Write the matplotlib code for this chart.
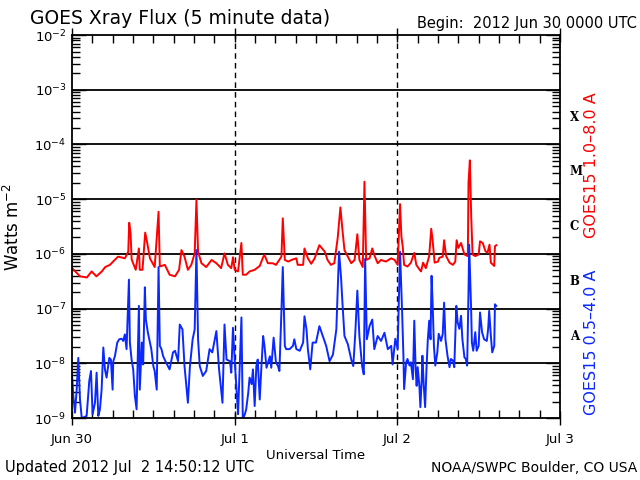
import matplotlib
matplotlib.use("Agg")
import matplotlib.pyplot as plt
import matplotlib.ticker as mticker
import matplotlib.transforms as mtrans
import numpy as np

# hours since 2012 Jun 30 0000 UTC, log10 of flux (W m^-2)
red_hours = [0.0, 1.2, 2.2, 2.9, 3.6, 4.4, 4.9, 5.6, 6.3, 6.8, 7.8, 8.3, 8.44, 8.64, 8.8,
             9.4, 9.87, 10.0, 10.4, 10.8, 11.1, 11.5, 12.2, 12.77, 12.96, 13.7, 14.4, 15.2,
             15.8, 16.15, 16.6, 17.1, 17.6, 18.1, 18.36, 18.6, 19.1, 19.8, 20.6, 21.3, 22.0,
             22.5, 23.0, 23.5, 23.76, 24.0, 24.5, 24.99, 25.2, 25.7, 26.2, 26.95, 27.7, 28.2,
             28.4, 28.9, 29.6, 30.1, 30.9, 31.1, 31.4, 31.9, 32.4, 33.1, 33.3, 34.1, 34.3,
             34.8, 35.3, 35.8, 36.5, 37.3, 37.7, 38.2, 38.7, 39.2, 39.6, 39.9, 40.2, 40.7,
             41.2, 41.7, 42.1, 42.4, 42.9, 43.15, 43.4, 43.9, 44.3, 44.6, 45.1, 45.6, 46.3,
             47.1, 47.6, 48.05, 48.4, 48.6, 48.8, 49.0, 49.5, 50.0, 50.5, 50.8, 51.3, 51.5,
             51.8, 52.2, 52.7, 53.0, 53.2, 53.5, 54.0, 54.2, 54.7, 54.9, 55.2, 55.7, 56.2,
             56.55, 56.75, 57.0, 57.4, 57.9, 58.4, 58.5, 58.7, 58.9, 59.1, 59.5, 60.0, 60.2,
             60.6, 61.0, 61.3, 61.6, 61.8, 62.3, 62.4, 62.6]
red_log = [-6.26, -6.41, -6.43, -6.32, -6.41, -6.32, -6.24, -6.20, -6.11, -6.05, -6.08, -5.96,
           -5.43, -5.62, -6.10, -6.29, -5.90, -6.29, -6.29, -5.61, -5.80, -6.08, -6.24, -5.23,
           -6.23, -6.20, -6.38, -6.41, -6.29, -5.93, -6.05, -6.29, -6.20, -5.99, -5.01, -5.96,
           -6.17, -6.24, -6.11, -6.17, -6.26, -5.99, -6.20, -6.26, -6.06, -6.29, -6.32, -5.80,
           -6.38, -6.38, -6.32, -6.29, -6.22, -6.06, -6.02, -6.17, -6.17, -6.20, -6.05, -5.35,
           -6.11, -6.14, -6.11, -6.08, -6.20, -6.20, -5.90, -6.08, -6.18, -6.08, -5.84, -5.96,
           -6.11, -6.20, -6.17, -5.71, -5.15, -5.56, -5.93, -6.05, -6.17, -6.11, -5.64, -6.11,
           -6.24, -4.68, -6.11, -6.08, -5.90, -6.02, -6.17, -6.11, -6.14, -6.08, -6.11, -6.20,
           -5.09, -5.68, -5.87, -6.20, -6.23, -6.16, -5.98, -6.20, -6.29, -6.32, -6.16, -6.26,
           -6.04, -5.54, -5.74, -6.16, -6.14, -6.07, -6.05, -5.75, -6.04, -6.16, -6.20, -6.14,
           -5.75, -5.89, -5.80, -6.01, -6.04, -4.70, -4.29, -5.31, -6.01, -6.04, -6.01, -5.77,
           -5.80, -5.95, -5.98, -5.83, -6.16, -6.22, -5.86, -5.84]

blue_hours = [0.0, 0.2, 0.44, 0.69, 0.93, 1.18, 1.43, 1.67, 2.16, 2.55, 2.8, 3.04, 3.39, 3.63,
              3.88, 4.12, 4.37, 4.62, 4.86, 5.1, 5.5, 5.74, 5.99, 6.09, 6.33, 6.68, 6.97, 7.32,
              7.56, 7.8, 8.05, 8.4, 8.54, 8.79, 9.03, 9.28, 9.53, 9.87, 10.0, 10.3, 10.5, 10.75,
              10.9, 11.2, 11.7, 12.0, 12.2, 12.5, 12.77, 12.96, 13.2, 13.45, 13.9, 14.4, 14.9,
              15.2, 15.65, 15.9, 16.3, 16.6, 17.1, 17.4, 17.8, 18.1, 18.36, 18.6, 18.85, 19.3,
              19.8, 20.3, 20.7, 21.3, 21.7, 22.2, 22.5, 22.8, 23.3, 23.5, 23.75, 24.0, 24.3,
              24.5, 24.7, 25.0, 25.2, 25.5, 25.7, 26.0, 26.2, 26.5, 26.7, 26.95, 27.2, 27.4,
              27.7, 27.9, 28.2, 28.4, 28.7, 29.2, 29.4, 29.75, 30.1, 30.4, 30.6, 30.9, 31.1,
              31.4, 31.6, 32.1, 32.6, 32.8, 33.1, 33.6, 34.1, 34.3, 34.6, 34.8, 35.15, 35.5,
              36.0, 36.5, 37.0, 37.5, 38.0, 38.5, 39.0, 39.4, 39.7, 39.9, 40.2, 40.7, 41.2,
              41.5, 41.8, 42.1, 42.4, 42.8, 43.05, 43.25, 43.5, 43.9, 44.3, 44.6, 45.1, 45.6,
              46.1, 46.6, 47.1, 47.3, 47.7, 48.05, 48.4, 48.55, 48.7, 48.9, 49.0, 49.3, 49.5,
              49.8, 50.0, 50.3, 50.5, 50.7, 50.85, 51.0, 51.25, 51.4, 51.6, 51.7, 51.9, 52.1,
              52.3, 52.5, 52.7, 52.9, 53.05, 53.2, 53.4, 53.6, 53.9, 54.1, 54.45, 54.7, 54.9,
              55.1, 55.4, 55.7, 55.9, 56.2, 56.4, 56.7, 56.9, 57.15, 57.4, 57.6, 57.9, 58.1,
              58.3, 58.5, 58.6, 58.9, 59.0, 59.2, 59.5, 59.7, 60.0, 60.2, 60.5, 60.8, 61.2,
              61.4, 61.55, 61.8, 62.0, 62.3, 62.4, 62.6]
blue_log = [-8.20, -8.60, -8.90, -8.48, -7.90, -8.66, -8.99, -8.99, -8.96, -8.32, -8.14, -8.93,
            -8.72, -8.17, -8.96, -8.84, -8.48, -7.71, -8.11, -8.26, -7.90, -7.93, -8.48, -7.96,
            -7.87, -7.62, -7.56, -7.55, -7.59, -7.47, -7.74, -6.47, -7.62, -7.93, -8.11, -8.60,
            -8.84, -6.95, -8.48, -7.62, -8.02, -6.61, -7.20, -7.44, -7.74, -8.05, -8.14, -8.48,
            -6.24, -7.68, -7.74, -7.87, -7.99, -8.11, -7.80, -7.77, -7.96, -7.29, -7.38, -8.05,
            -8.72, -8.05, -7.56, -7.38, -5.93, -7.56, -8.05, -8.23, -8.14, -7.74, -7.80, -7.41,
            -8.11, -8.72, -7.29, -7.93, -7.96, -8.17, -7.35, -7.93, -8.54, -8.93, -8.23, -7.16,
            -9.02, -8.93, -8.84, -8.54, -8.26, -8.38, -8.11, -8.78, -8.05, -7.93, -8.66, -8.17,
            -7.50, -7.68, -8.08, -7.87, -8.08, -7.53, -7.99, -8.05, -8.14, -7.04, -6.24, -7.68,
            -7.74, -7.74, -7.68, -7.56, -7.74, -7.77, -7.62, -7.14, -7.38, -7.74, -8.11, -7.62,
            -7.62, -7.32, -7.50, -7.68, -7.96, -7.84, -7.38, -5.96, -6.44, -6.89, -7.50, -7.65,
            -7.93, -8.05, -7.44, -6.67, -7.50, -8.05, -8.20, -6.09, -7.56, -7.32, -7.20, -7.74,
            -7.50, -7.59, -7.44, -7.74, -7.68, -8.02, -7.55, -7.74, -5.96, -6.51, -7.04, -7.87,
            -8.47, -7.98, -7.92, -8.04, -7.98, -8.29, -7.22, -8.10, -8.41, -8.07, -8.41, -8.80,
            -8.29, -7.86, -8.41, -8.80, -8.10, -7.56, -7.22, -7.56, -6.40, -6.88, -7.68, -8.04,
            -7.80, -7.46, -7.59, -7.46, -6.89, -7.56, -7.86, -8.07, -7.92, -7.95, -8.07, -6.95,
            -7.25, -7.37, -7.13, -7.56, -7.89, -7.92, -8.04, -6.70, -5.83, -7.07, -7.62, -7.77,
            -7.43, -7.77, -7.68, -7.07, -7.43, -7.56, -7.59, -7.37, -7.04, -7.50, -7.80, -7.68,
            -6.92, -6.95]

day_ticks = [0, 24, 48, 72]
day_labels = ["Jun 30", "Jul 1", "Jul 2", "Jul 3"]
decades = [-9, -8, -7, -6, -5, -4, -3, -2]
flare_classes = ["X", "M", "C", "B", "A"]
class_levels = [1e-3, 1e-4, 1e-5, 1e-6, 1e-7]

fig = plt.figure(figsize=(6.4, 4.8), dpi=100)
ax = fig.add_axes([0.1125, 0.129, 0.7625, 0.798])

ax.plot(red_hours, 10.0 ** np.array(red_log), color="#ff0000", lw=1.4)
ax.plot(blue_hours, 10.0 ** np.array(blue_log), color="#0a28ff", lw=1.4)

ax.set_yscale("log")
ax.set_ylim(1e-9, 1e-2)
ax.set_xlim(0, 72)

for k in decades[1:-1]:
    ax.axhline(10.0 ** k, color="black", lw=1.3, zorder=1)
for d in [24, 48]:
    ax.axvline(d, color="black", lw=1.0, ls=(0, (4, 3)), zorder=1)

ax.set_xticks(day_ticks)
ax.set_xticklabels(day_labels, fontsize=9.5)
ax.set_xticks(np.arange(3, 72, 3), minor=True)
ax.tick_params(axis="x", which="major", direction="inout", length=10, width=1, top=True, pad=6)
ax.tick_params(axis="x", which="minor", direction="in", length=6, width=1, top=True)

# only ticks inside the visible range
major_y = [10.0 ** k for k in decades]
minor_y = [s * 10.0 ** k for k in decades[:-1] for s in range(2, 10)]
ax.yaxis.set_major_locator(mticker.FixedLocator(major_y))
ax.yaxis.set_major_formatter(mticker.FixedFormatter(["$10^{%d}$" % k for k in decades]))
ax.yaxis.set_minor_locator(mticker.FixedLocator(minor_y))
ax.yaxis.set_minor_formatter(mticker.NullFormatter())
ax.tick_params(axis="y", which="major", direction="in", length=10, width=1, right=True,
               labelsize=9.5, pad=4)
ax.tick_params(axis="y", which="minor", direction="in", length=6, width=1, right=True)

for side in ax.spines.values():
    side.set_linewidth(1.3)

ax.set_ylabel("Watts m$^{-2}$", fontsize=12, labelpad=8)
ax.set_xlabel("Universal Time", fontsize=9.5, labelpad=2)

# flare class letters on the right
trans = mtrans.blended_transform_factory(ax.transAxes, ax.transData)
for lab, lev in zip(flare_classes, class_levels):
    ax.text(1.02, lev * 10 ** -0.5, lab, transform=trans, fontsize=8.5, fontweight="bold",
            family="DejaVu Serif", va="center", ha="left")

fig.text(0.925, 0.656, "GOES15 1.0\u20138.0 A", color="#ff0000", rotation=90,
         ha="center", va="center", fontsize=11.5)
fig.text(0.925, 0.288, "GOES15 0.5\u20134.0 A", color="#0a28ff", rotation=90,
         ha="center", va="center", fontsize=11.5)

fig.text(0.047, 0.962, "GOES Xray Flux (5 minute data)", fontsize=13.5, ha="left", va="center")
fig.text(0.995, 0.952, "Begin:  2012 Jun 30 0000 UTC", fontsize=10.5, ha="right", va="center")
fig.text(0.008, 0.026, "Updated 2012 Jul  2 14:50:12 UTC", fontsize=10.5, ha="left",
         va="center")
fig.text(0.995, 0.026, "NOAA/SWPC Boulder, CO USA", fontsize=10, ha="right", va="center")

fig.savefig("out.png", dpi=100, facecolor="white")
